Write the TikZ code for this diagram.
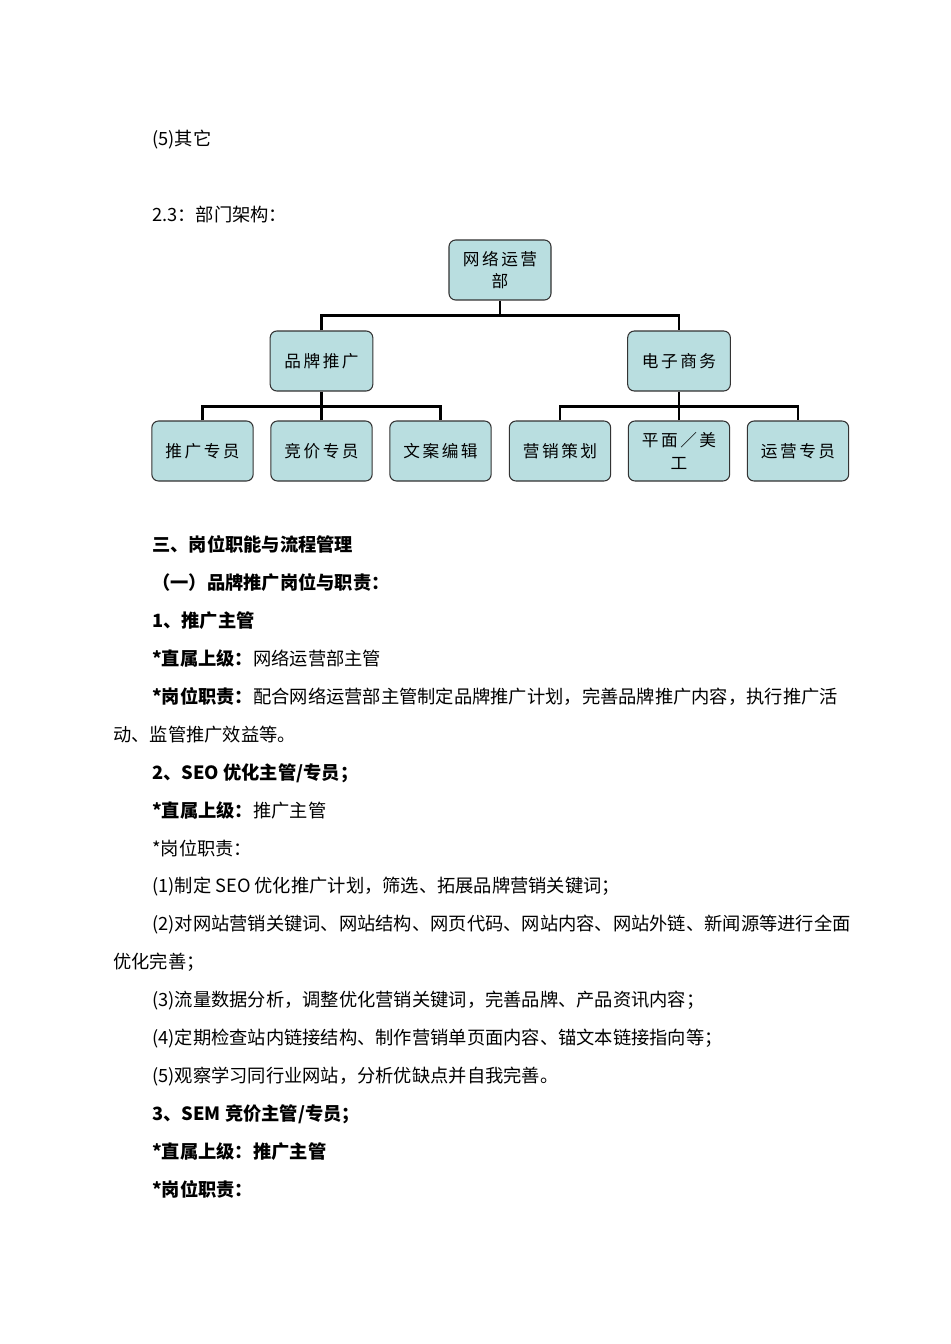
\documentclass[tikz,border=0pt]{standalone}
\usepackage{fontspec}
\setmainfont{Noto Sans CJK SC}
\newfontfamily\boxfont{Noto Sans CJK SC}[LetterSpace=15]
\begin{document}
\begin{tikzpicture}[x=0.75pt,y=-0.75pt,
  bx/.style={draw=black!80,line width=0.8pt,fill=boxfill,rounded corners=5pt,font=\boxfont\fontsize{12.5}{17}\selectfont,align=center,inner sep=0pt},
  ln/.style={line width=2.2pt},
  tx/.style={anchor=base west,inner sep=0pt,font=\fontsize{13.7}{16}\selectfont}]
\definecolor{boxfill}{HTML}{B9DEE0}
\useasboundingbox (0,0) rectangle (950,1344);
\node[bx,minimum width=76.5pt,minimum height=45pt] (top) at (500,270) {网络运营\\部};
\node[bx,minimum width=77pt,minimum height=45pt] (a) at (321.5,361) {品牌推广};
\node[bx,minimum width=77pt,minimum height=45pt] (b) at (679,361) {电子商务};
\foreach \n/\x/\t in {a1/202.5/推广专员,a2/321.5/竞价专员,a3/440.5/文案编辑,b1/560/营销策划,b2/679/平面／美\\工,b3/798/运营专员}
  \node[bx,minimum width=76pt,minimum height=45pt] (\n) at (\x,451) {\t};
\draw[ln] (top.south) -- ++(0,15) coordinate (j0);
\draw[ln] (a.north) |- (j0) -| (b.north);
\draw[ln] (a.south) -- ++(0,15) coordinate (ja);
\draw[ln] (a1.north) |- (ja) -| (a3.north);
\draw[ln] (a2.north) -- (ja);
\draw[ln] (b.south) -- ++(0,15) coordinate (jb);
\draw[ln] (b1.north) |- (jb) -| (b3.north);
\draw[ln] (b2.north) -- (jb);
\node[tx] (t1) at (152,146) {(5)其它};
\node[tx] (t2) at (152,222) {2.3：部门架构：};
\node[tx] (l1) at (152,551) {\bfseries 三、岗位职能与流程管理};
\node[tx] (l2) at (152,589) {\bfseries （一）品牌推广岗位与职责：};
\node[tx] (l3) at (152,627) {\bfseries 1、推广主管};
\node[tx] (l4) at (152,665) {\textbf{*直属上级：}网络运营部主管};
\node[tx] (l5) at (152,703) {\textbf{*岗位职责：}配合网络运营部主管制定品牌推广计划，完善品牌推广内容，执行推广活};
\node[tx] (l6) at (113,741) {动、监管推广效益等。};
\node[tx] (l7) at (152,779) {\bfseries 2、SEO 优化主管/专员；};
\node[tx] (l8) at (152,817) {\textbf{*直属上级：}推广主管};
\node[tx] (l9) at (152,855) {*岗位职责：};
\node[tx] (l10) at (152,892) {(1)制定 SEO 优化推广计划，筛选、拓展品牌营销关键词；};
\node[tx] (l11) at (152,930) {(2)对网站营销关键词、网站结构、网页代码、网站内容、网站外链、新闻源等进行全面};
\node[tx] (l12) at (113,968) {优化完善；};
\node[tx] (l13) at (152,1006) {(3)流量数据分析，调整优化营销关键词，完善品牌、产品资讯内容；};
\node[tx] (l14) at (152,1044) {(4)定期检查站内链接结构、制作营销单页面内容、锚文本链接指向等；};
\node[tx] (l15) at (152,1082) {(5)观察学习同行业网站，分析优缺点并自我完善。};
\node[tx] (l16) at (152,1120) {\bfseries 3、SEM 竞价主管/专员；};
\node[tx] (l17) at (152,1158) {\bfseries *直属上级：推广主管};
\node[tx] (l18) at (152,1196) {\bfseries *岗位职责：};
\end{tikzpicture}
\end{document}
